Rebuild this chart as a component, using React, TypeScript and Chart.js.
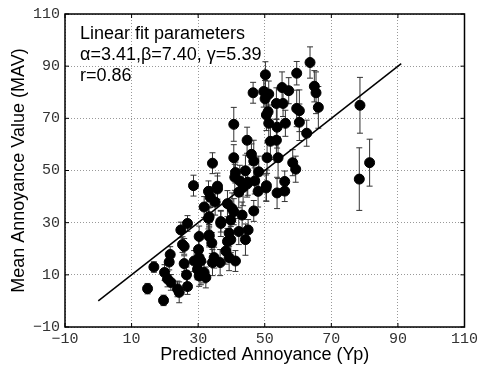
import React, { useEffect, useRef } from "react";
import { Chart, registerables } from "chart.js";

Chart.register(...registerables);

// ---- data ----
const xValues = [
  63.6, 59.6, 50.2, 46.5, 49.7, 51.2, 50.1, 55.2, 57.2, 64.9, 65.4, 66.1, 53.5, 55.5, 59.6, 60.4,
  50.5, 51.0, 51.2, 53.7, 56.2, 60.4, 62.6, 44.7, 51.7, 53.5, 46.0, 46.7, 50.7, 54.0, 58.4, 59.3,
  44.2, 48.2, 44.9, 50.5, 56.0, 40.7, 40.7, 41.2, 41.0, 34.3, 35.8, 28.6, 33.1, 35.8, 31.8, 33.6,
  35.1, 33.1, 36.8, 38.8, 40.2, 39.8, 39.3, 33.3, 34.1, 34.8, 36.6, 39.3, 41.2, 30.3, 30.8, 32.3,
  44.7, 42.2, 50.4, 53.7, 56.0, 46.7, 43.2, 40.7, 45.0, 44.2, 42.2, 38.8, 38.3, 39.8, 36.8, 33.3,
  30.3, 30.1, 28.8, 29.8, 30.3, 31.8, 30.8, 33.3, 34.3, 14.8, 16.7, 19.6, 19.9, 21.3, 21.6, 20.8,
  21.8, 23.8, 24.3, 26.8, 25.8, 26.5, 24.8, 26.8, 25.3, 25.8, 78.6, 78.4, 81.5, 42.5, 43.5, 47.0,
  48.0,
];
const yValues = [
  91.4, 87.3, 86.7, 79.8, 80.3, 79.3, 77.5, 81.8, 80.6, 82.3, 79.8, 74.2, 75.7, 75.7, 73.8, 72.9,
  71.3, 72.5, 68.1, 66.6, 68.1, 68.5, 64.3, 61.6, 61.2, 61.6, 56.2, 53.6, 54.9, 54.9, 53.0, 50.5,
  49.9, 49.5, 45.5, 44.2, 45.8, 67.7, 54.9, 49.2, 47.4, 52.8, 44.0, 44.2, 42.0, 42.9, 36.0, 39.8,
  37.9, 31.6, 29.7, 37.3, 35.4, 31.0, 26.0, 25.3, 22.2, 16.6, 14.7, 16.6, 15.3, 16.6, 10.2, 9.0,
  44.8, 41.7, 43.3, 41.4, 42.1, 34.5, 32.9, 34.2, 27.2, 23.5, 26.6, 22.8, 19.1, 23.5, 30.4, 32.3,
  24.7, 19.7, 15.3, 12.1, 9.6, 10.9, 15.3, 24.7, 14.7, 4.7, 13.0, 0.2, 10.9, 14.9, 17.8, 8.4,
  7.1, 4.6, 3.3, 5.5, 14.3, 10.0, 27.2, 29.7, 21.6, 20.9, 75.0, 46.7, 53.0, 46.0, 43.5, 46.0,
  42.0,
];
const yErrors = [
  6, 4.5, 5, 4, 6, 5, 7, 6, 5, 6, 8, 8, 6, 5, 7, 8,
  6, 5, 7, 8, 5, 7, 5, 5, 7, 8, 4, 8, 6, 8, 5, 5,
  6, 6, 5, 6, 4, 6.5, 5, 4, 5, 4, 5, 4, 4, 5, 4, 4,
  5, 4, 5, 5, 6, 6, 5, 4, 4, 4, 5, 5, 4, 4, 4, 4,
  5, 6, 5, 6, 4, 4, 5, 5, 4, 6, 5, 5, 5, 5, 4, 4,
  4, 4, 4, 4, 4, 4, 4, 4, 5, 2, 2, 2, 3, 3, 3, 3,
  3, 3, 4, 3, 3, 3, 3, 3, 3, 3, 10.7, 12, 9, 6, 7, 5,
  6,
];
const fitLineX = [0, 91];
const fitLineY = [0, 91];
const axisTicks = [-10, 10, 30, 50, 70, 90, 110];
const annotationLines = ["Linear fit parameters", "α=3.41,β=7.40, γ=5.39", "r=0.86"];
const xTitle = "Predicted Annoyance (Yp)";
const yTitle = "Mean Annoyance Value (MAV)";

const errorBarPlugin = {
  id: "errorBars",
  beforeDatasetsDraw(chart: any) {
    const { ctx } = chart;
    const xs = chart.scales.x;
    const ys = chart.scales.y;
    ctx.save();
    ctx.strokeStyle = "#333";
    ctx.lineWidth = 1;
    for (let i = 0; i < xValues.length; i++) {
      const px = xs.getPixelForValue(xValues[i]);
      const pt = ys.getPixelForValue(yValues[i] + yErrors[i]);
      const pb = ys.getPixelForValue(yValues[i] - yErrors[i]);
      ctx.beginPath();
      ctx.moveTo(px, pt);
      ctx.lineTo(px, pb);
      ctx.moveTo(px - 3, pt);
      ctx.lineTo(px + 3, pt);
      ctx.moveTo(px - 3, pb);
      ctx.lineTo(px + 3, pb);
      ctx.stroke();
    }
    ctx.restore();
  },
};

const framePlugin = {
  id: "frame",
  afterDraw(chart: any) {
    const { ctx, chartArea } = chart;
    const { left, right, top, bottom } = chartArea;
    const xs = chart.scales.x;
    const ys = chart.scales.y;
    ctx.save();
    ctx.strokeStyle = "#000";
    ctx.lineWidth = 1.5;
    ctx.strokeRect(left, top, right - left, bottom - top);
    ctx.lineWidth = 1;
    const tl = 4;
    ctx.beginPath();
    for (const v of axisTicks) {
      const px = xs.getPixelForValue(v);
      ctx.moveTo(px, bottom);
      ctx.lineTo(px, bottom - tl);
      ctx.moveTo(px, top);
      ctx.lineTo(px, top + tl);
      const py = ys.getPixelForValue(v);
      ctx.moveTo(left, py);
      ctx.lineTo(left + tl, py);
      ctx.moveTo(right, py);
      ctx.lineTo(right - tl, py);
    }
    ctx.stroke();
    ctx.fillStyle = "#000";
    ctx.font = "18px 'Liberation Sans', Arial, sans-serif";
    ctx.textBaseline = "alphabetic";
    ctx.textAlign = "left";
    annotationLines.forEach((t, i) => {
      ctx.fillText(t, left + 15, top + 25 + i * 21);
    });
    ctx.restore();
  },
};

export default function App() {
  const ref = useRef<HTMLCanvasElement | null>(null);
  useEffect(() => {
    if (!ref.current) return;
    const tickFont = { family: "'Liberation Mono', monospace", size: 15 };
    const titleFont = { family: "'Liberation Sans', Arial, sans-serif", size: 18 };
    const fmt = (v: any) => String(v).replace("-", "\u2212");
    const chart = new Chart(ref.current, {
      type: "scatter",
      data: {
        datasets: [
          {
            type: "line",
            data: fitLineX.map((x, i) => ({ x, y: fitLineY[i] })),
            borderColor: "#000",
            borderWidth: 1.5,
            pointRadius: 0,
            fill: false,
          } as any,
          {
            data: xValues.map((x, i) => ({ x, y: yValues[i] })),
            backgroundColor: "#000",
            borderColor: "#000",
            borderWidth: 1,
            pointRadius: 5,
          },
        ],
      },
      options: {
        animation: false,
        responsive: false,
        devicePixelRatio: 1,
        layout: { padding: { left: 0, top: 10, right: 14, bottom: 0 } },
        plugins: { legend: { display: false }, tooltip: { enabled: false } },
        scales: {
          x: {
            type: "linear",
            min: -10,
            max: 110,
            afterBuildTicks: (s: any) => {
              s.ticks = axisTicks.map((v) => ({ value: v }));
            },
            afterFit: (s: any) => {
              s.height = 41;
            },
            grid: { color: "#999", lineWidth: 1, drawTicks: false },
            border: { display: false, dash: [1, 2] },
            ticks: { font: tickFont, color: "#333", padding: 3, callback: fmt, maxRotation: 0 },
            title: { display: true, text: xTitle, font: titleFont, color: "#000", padding: { top: 0, bottom: 2 } },
          },
          y: {
            type: "linear",
            min: -10,
            max: 110,
            afterBuildTicks: (s: any) => {
              s.ticks = axisTicks.map((v) => ({ value: v }));
            },
            afterFit: (s: any) => {
              s.width = 65;
            },
            grid: { color: "#999", lineWidth: 1, drawTicks: false },
            border: { display: false, dash: [1, 2] },
            ticks: { font: tickFont, color: "#333", padding: 5, callback: fmt },
            title: { display: true, text: yTitle, font: titleFont, color: "#000", padding: { top: 8, bottom: 0 } },
          },
        },
      },
      plugins: [errorBarPlugin, framePlugin],
    });
    return () => chart.destroy();
  }, []);
  return (
    <div style={{ position: "absolute", left: 0, top: 0, width: 481, height: 368 }}>
      <canvas ref={ref} width={481} height={368} />
    </div>
  );
}
